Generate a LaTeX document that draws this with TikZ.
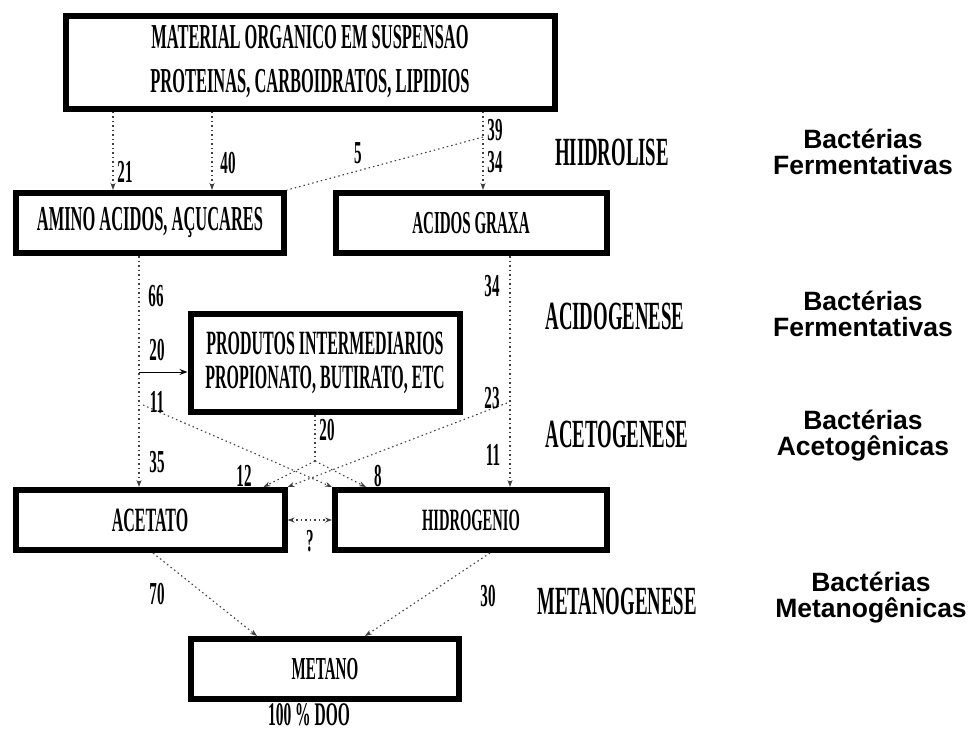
\documentclass[tikz,border=0pt]{standalone}
\usepackage{fontspec}
\setmainfont{Liberation Serif}
\newfontfamily\estreita[FakeStretch=0.47]{Liberation Serif}
\newfontfamily\bactfont{Liberation Sans}
\newcommand\estreitafont[2]{\estreita\bfseries\fontsize{#1}{#2}\selectfont}
\usetikzlibrary{arrows.meta}

\begin{document}
\begin{tikzpicture}[x=1pt, y=-1pt,
    caixa/.style={draw, line width=6pt, inner sep=0pt, align=center, font=\estreitafont{34}{34}},
    num/.style={font=\estreitafont{32}{32}, inner sep=0pt},
    etapa/.style={font=\estreitafont{40}{40}, inner sep=0pt},
    bact/.style={font=\bactfont\bfseries\fontsize{26.5}{26}\selectfont, align=center, inner sep=0pt},
    linha/.style={black!75, line width=1.1pt, dash pattern=on 1.5pt off 3pt},
    fluxo/.style={linha, -{Stealth[length=7pt, width=5pt]}}]
\useasboundingbox (0,0) rectangle (975,734);

% caixas
\node[caixa, minimum width=489pt, minimum height=93pt, font=\estreitafont{35}{44}] (material) at (310,62)
    {MATERIAL ORGANICO EM SUSPENSAO\\PROTEINAS, CARBOIDRATOS, LIPIDIOS};
\node[caixa, minimum width=268pt, minimum height=60pt, font=\estreitafont{35}{35}] (amino) at (150,223) {AMINO ACIDOS, AÇUCARES};
\node[caixa, minimum width=271pt, minimum height=60pt, font=\estreitafont{32}{32}] (graxa) at (471,223) {ACIDOS GRAXA};
\node[caixa, minimum width=269pt, minimum height=98pt, font=\estreitafont{34}{34}] (produtos) at (325,363)
    {PRODUTOS INTERMEDIARIOS\\PROPIONATO, BUTIRATO, ETC};
\node[caixa, minimum width=269pt, minimum height=60pt] (acetato) at (150,520) {ACETATO};
\node[caixa, minimum width=272pt, minimum height=60pt, font=\estreitafont{31}{31}] (hidrogenio) at (471,520) {HIDROGENIO};
\node[caixa, minimum width=268pt, minimum height=60pt, font=\estreitafont{32}{32}] (metano) at (325,669) {METANO};
\node[num, font=\estreitafont{33}{33}] (doo) at (309,715) {100 \% DOO};

% hidrolise
\draw[fluxo] (113,0 |- material.south) -- (113,0 |- amino.north);
\draw[fluxo] (212,0 |- material.south) -- (212,0 |- amino.north);
\draw[fluxo] (483,0 |- material.south) -- (483,0 |- graxa.north);
\coordinate (r5) at (483,137);
\draw[linha] (r5) -- (amino.north east);
\node[num] (n21) at (125,172) {21};
\node[num] (n40) at (228,163) {40};
\node[num] (n5) at (358,153) {5};
\node[num] (n39) at (495,130) {39};
\node[num] (n34a) at (495,162) {34};

% acidogenese / acetogenese
\draw[fluxo] (139,0 |- amino.south) -- (139,0 |- acetato.north);
\coordinate (r20) at (139,372);
\draw[-{Stealth[length=8pt, width=6pt]}, line width=1pt] (r20) -- (r20 -| produtos.west);
\coordinate (r11) at (143,405);
\draw[fluxo] (r11) -- (hidrogenio.north west);
\draw[fluxo] (510,0 |- graxa.south) -- (510,0 |- hidrogenio.north);
\coordinate (r23) at (507,403);
\draw[fluxo] (r23) -- (acetato.north east);
\coordinate (div) at (315,461);
\draw[linha] (315,0 |- produtos.south) -- (div);
\draw[fluxo] (div) -- ([xshift=-24pt]acetato.north east);
\draw[fluxo] (div) -- ([xshift=34pt]hidrogenio.north west);
\node[num] (n66) at (156,296) {66};
\node[num] (n20a) at (157,350) {20};
\node[num] (n11a) at (157,402) {11};
\node[num] (n35) at (157,462) {35};
\node[num] (n20b) at (327,430) {20};
\node[num] (n12) at (244,476) {12};
\node[num] (n8) at (378,476) {8};
\node[num] (n34b) at (492,286) {34};
\node[num] (n23) at (492,398) {23};
\node[num] (n11b) at (493,455) {11};

% metanogenese
\draw[linha, {Stealth[length=7pt, width=5pt]}-{Stealth[length=7pt, width=5pt]}] (acetato.east) -- (hidrogenio.west);
\node[num] (nq) at (310,541) {?};
\draw[fluxo] (153,0 |- acetato.south) -- (257,0 |- metano.north);
\draw[fluxo] (490,0 |- hidrogenio.south) -- (365,0 |- metano.north);
\node[num] (n70) at (157,594) {70};
\node[num] (n30) at (488,596) {30};

% etapas
\node[etapa] (hidrolise) at (612,152) {HIIDROLISE};
\node[etapa] (acidogenese) at (615,316) {ACIDOGENESE};
\node[etapa] (acetogenese) at (617,434) {ACETOGENESE};
\node[etapa] (metanogenese) at (617,601) {METANOGENESE};

% bacterias
\node[bact] (b1) at (863,152) {Bactérias\\Fermentativas};
\node[bact] (b2) at (863,314) {Bactérias\\Fermentativas};
\node[bact] (b3) at (863,436) {Bactérias\\Acetogênicas};
\node[bact] (b4) at (871,598) {Bactérias\\Metanogênicas};
\end{tikzpicture}
\end{document}
